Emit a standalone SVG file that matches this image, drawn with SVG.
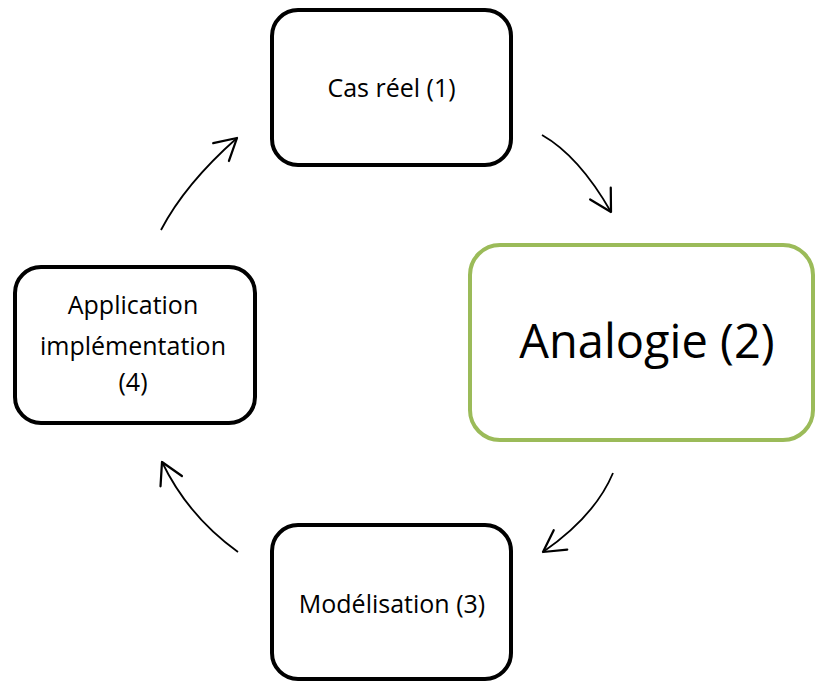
<svg xmlns="http://www.w3.org/2000/svg" width="817" height="683" viewBox="0 0 817 683">
<style>
.box{fill:#fff;stroke:#000;stroke-width:4}
.green{fill:#fff;stroke:#9BBB59;stroke-width:4}
.lbl{font-family:"Open Sans","Noto Sans",sans-serif;font-size:25px;fill:#000;text-anchor:middle}
.big{font-size:47px}
.conn{fill:none;stroke:#000;stroke-width:1.8}
</style>
<defs>
<marker id="arr" markerUnits="userSpaceOnUse" markerWidth="30" markerHeight="30" viewBox="-20 -12 24 24" refX="0" refY="0" orient="auto">
<path d="M-17,-9.5 L0,0 L-17,9.5" fill="none" stroke="#000" stroke-width="1.8" stroke-linecap="round" stroke-linejoin="round"/>
</marker>
</defs>
<rect width="817" height="683" fill="#fff"/>
<g id="connectors">
<path class="conn" d="M161,230 Q185,184 237,138" marker-end="url(#arr)"/>
<path class="conn" d="M542,135 Q579,156 611,212" marker-end="url(#arr)"/>
<path class="conn" d="M613,473 Q595,516 543,552" marker-end="url(#arr)"/>
<path class="conn" d="M238,552 Q188,516 162,462" marker-end="url(#arr)"/>
</g>
<g id="node1">
<rect class="box" x="272" y="10" width="239" height="155" rx="26"/>
<text class="lbl" x="391.5" y="97">Cas réel (1)</text>
</g>
<g id="node2">
<rect class="green" x="470" y="245" width="343" height="195" rx="30"/>
<text class="lbl big" x="647" y="358">Analogie (2)</text>
</g>
<g id="node3">
<rect class="box" x="272" y="525" width="239" height="154" rx="26"/>
<text class="lbl" x="392" y="613">Modélisation (3)</text>
</g>
<g id="node4">
<rect class="box" x="15" y="267" width="240" height="156" rx="26"/>
<text class="lbl" x="133" y="314">Application</text>
<text class="lbl" x="133" y="355">implémentation</text>
<text class="lbl" x="133" y="391">(4)</text>
</g>
</svg>
